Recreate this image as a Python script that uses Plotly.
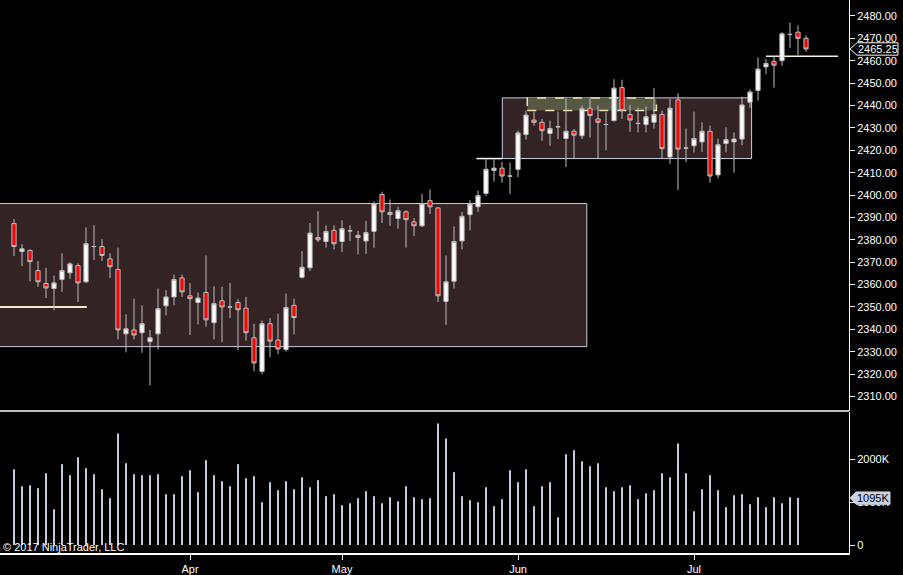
import plotly.graph_objects as go

# daily bars, 2 Mar .. 24 Jul 2017 (index = trading day)
opens = [2387.25, 2374.75, 2375.25, 2366.25, 2360.5, 2358.25, 2362.25, 2365.25, 2368.5, 2361.25,
         2377.0, 2377.0, 2371.5, 2366.75, 2338.0, 2339.75, 2338.5, 2334.5, 2338.0, 2350.5,
         2354.5, 2363.0, 2355.0, 2352.0, 2356.5, 2343.0, 2352.75, 2350.0, 2352.0, 2349.5,
         2336.25, 2321.25, 2342.5, 2335.25, 2331.0, 2350.75, 2363.25, 2367.5, 2381.0, 2379.25,
         2384.25, 2379.25, 2384.0, 2382.0, 2379.5, 2383.75, 2400.25, 2392.25, 2389.5, 2392.5,
         2388.0, 2386.25, 2397.5, 2394.25, 2352.5, 2361.5, 2379.5, 2391.25, 2394.75, 2400.75,
         2411.0, 2412.0, 2408.5, 2411.5, 2427.0, 2433.5, 2432.5, 2427.5, 2430.5, 2425.25,
         2428.5, 2426.5, 2438.75, 2434.0, 2431.5, 2433.25, 2448.0, 2436.0, 2432.0, 2431.5,
         2432.5, 2436.0, 2417.0, 2442.5, 2421.0, 2422.0, 2423.75, 2428.5, 2409.0, 2423.0,
         2423.75, 2425.0, 2441.5, 2446.75, 2457.25, 2459.75, 2460.0, 2471.75, 2472.75, 2470.0]
highs = [2389.25, 2378.0, 2375.75, 2370.5, 2367.5, 2364.0, 2374.0, 2370.0, 2369.5, 2385.5,
         2386.5, 2380.25, 2374.0, 2376.5, 2346.75, 2353.75, 2350.75, 2339.75, 2358.25, 2357.5,
         2364.5, 2364.5, 2360.75, 2356.5, 2373.0, 2359.25, 2359.0, 2360.75, 2353.5, 2354.5,
         2342.5, 2344.0, 2345.0, 2347.0, 2356.0, 2353.75, 2375.0, 2387.5, 2392.75, 2386.5,
         2386.5, 2388.75, 2386.5, 2384.0, 2388.5, 2397.25, 2401.5, 2398.0, 2394.75, 2393.25,
         2389.75, 2400.5, 2402.5, 2394.5, 2373.0, 2386.0, 2392.5, 2397.75, 2402.0, 2416.0,
         2416.0, 2414.75, 2414.5, 2428.75, 2437.75, 2437.25, 2434.0, 2433.25, 2437.25, 2443.5,
         2429.5, 2440.0, 2443.5, 2440.0, 2437.0, 2451.75, 2451.5, 2440.25, 2439.0, 2439.5,
         2447.75, 2437.75, 2443.0, 2445.5, 2429.75, 2437.25, 2432.5, 2431.0, 2425.25, 2430.25,
         2428.0, 2444.0, 2447.25, 2461.5, 2460.75, 2462.0, 2472.75, 2477.0, 2475.75, 2471.25]
lows = [2372.75, 2368.25, 2361.5, 2359.0, 2354.0, 2348.5, 2356.75, 2362.5, 2352.25, 2360.75,
        2371.0, 2370.5, 2363.0, 2335.5, 2329.75, 2335.5, 2329.5, 2315.0, 2331.0, 2346.25,
        2350.75, 2354.5, 2337.5, 2342.25, 2341.25, 2335.5, 2334.25, 2345.0, 2330.75, 2335.0,
        2321.25, 2320.0, 2327.5, 2329.0, 2330.0, 2337.75, 2362.75, 2366.0, 2379.0, 2376.5,
        2375.75, 2374.5, 2379.5, 2373.5, 2373.75, 2376.5, 2387.5, 2386.25, 2385.0, 2376.5,
        2381.75, 2385.75, 2391.5, 2352.25, 2342.0, 2358.25, 2375.75, 2384.25, 2392.5, 2399.5,
        2406.0, 2405.5, 2400.5, 2408.0, 2424.75, 2431.0, 2424.25, 2422.0, 2425.0, 2412.5,
        2416.25, 2425.0, 2425.75, 2416.25, 2420.0, 2432.75, 2434.0, 2428.25, 2428.0, 2428.0,
        2429.75, 2416.25, 2414.0, 2402.25, 2414.75, 2419.0, 2419.25, 2405.5, 2407.5, 2419.0,
        2410.0, 2422.25, 2439.0, 2442.25, 2454.0, 2448.0, 2457.75, 2465.75, 2462.5, 2464.0]
closes = [2377.0, 2376.0, 2370.25, 2361.25, 2358.5, 2360.75, 2366.25, 2369.25, 2360.75, 2378.25,
          2377.0, 2373.0, 2368.0, 2339.75, 2340.25, 2337.5, 2342.5, 2336.25, 2349.25, 2354.5,
          2362.25, 2356.75, 2353.75, 2354.0, 2344.25, 2351.5, 2350.0, 2350.0, 2348.75, 2338.5,
          2325.0, 2342.5, 2334.75, 2331.25, 2349.75, 2345.25, 2367.75, 2383.0, 2380.0, 2383.75,
          2378.25, 2385.0, 2384.0, 2381.0, 2383.25, 2396.0, 2392.5, 2391.25, 2393.0, 2389.0,
          2386.25, 2396.25, 2394.75, 2355.0, 2361.25, 2379.25, 2390.5, 2396.0, 2399.75, 2411.5,
          2412.0, 2408.5, 2408.5, 2427.75, 2435.75, 2432.5, 2428.75, 2429.75, 2430.5, 2428.5,
          2426.75, 2438.5, 2435.5, 2432.5, 2431.5, 2447.75, 2437.75, 2433.5, 2432.0, 2435.0,
          2436.0, 2420.75, 2438.75, 2420.5, 2421.0, 2425.25, 2428.5, 2408.5, 2422.5, 2424.75,
          2425.0, 2440.25, 2446.0, 2456.25, 2458.75, 2458.0, 2472.0, 2471.75, 2470.0, 2465.25]
volumes = [1767000, 1372000, 1395000, 1326000, 1674000, 837000, 1884000, 1628000, 2047000, 1791000,
           1651000, 1302000, 1093000, 2605000, 1907000, 1651000, 1628000, 1628000, 1651000, 1186000,
           1186000, 1605000, 1744000, 1233000, 1977000, 1628000, 1488000, 1372000, 1884000, 1558000,
           1605000, 1000000, 1465000, 1279000, 1488000, 1302000, 1581000, 1349000, 1512000, 1140000,
           1186000, 930000, 977000, 1093000, 1256000, 1140000, 977000, 1116000, 1023000, 1372000,
           1116000, 1070000, 1093000, 2837000, 2488000, 1698000, 1140000, 1047000, 1000000, 1349000,
           907000, 1070000, 1744000, 1465000, 1767000, 907000, 1372000, 1465000, 651000, 2116000,
           2209000, 1953000, 1837000, 1907000, 1349000, 1256000, 1349000, 1395000, 1070000, 1209000,
           1279000, 1674000, 1581000, 2372000, 1674000, 791000, 1302000, 1628000, 1279000, 884000,
           1163000, 1186000, 954000, 1116000, 884000, 1116000, 977000, 1116000, 1095000]

month_ticks = [22, 41, 63, 85]
month_labels = ["Apr", "May", "Jun", "Jul"]
price_ticks = list(range(2310, 2481, 10))
volume_ticks = [0, 1000000, 2000000]
volume_labels = ["0", "1000K", "2000K"]

bars = list(range(len(closes)))

W, H = 849, 555  # plot area in px
price_dom = [1 - 412 / H, 1.0]
vol_dom = [0.0, 1 - 413 / H]
price_rng = [2303.76, 2487.12]
vol_rng = [-186000, 3116000]

FONT = "Liberation Sans, Arial, sans-serif"
WICK = "#bdbdbd"


def to_paper(v, dom, rng):
    return dom[0] + (v - rng[0]) / (rng[1] - rng[0]) * (dom[1] - dom[0])


def marker_path(yc, x_tip, x_box, x_end, half=6.2):
    t, b, e = x_tip / W, x_box / W, x_end / W
    h = half / H
    return f"M {t},{yc} L {b},{yc + h} L {e},{yc + h} L {e},{yc - h} L {b},{yc - h} Z"


fig = go.Figure()

fig.add_trace(go.Candlestick(
    x=bars, open=opens, high=highs, low=lows, close=closes,
    increasing=dict(fillcolor="#ffffff", line=dict(color=WICK, width=1)),
    decreasing=dict(fillcolor="#ff0000", line=dict(color=WICK, width=1)),
    whiskerwidth=0, xaxis="x", yaxis="y", hoverinfo="skip", showlegend=False,
))

fig.add_trace(go.Bar(
    x=bars[:len(volumes)], y=volumes, width=0.25,
    marker=dict(color="#c3cddd", line=dict(width=0)),
    xaxis="x", yaxis="y2", hoverinfo="skip", showlegend=False,
))

axis_common = dict(showgrid=False, zeroline=False, showline=True, linecolor="#ffffff",
                   ticks="outside", ticklen=5, tickcolor="#ffffff",
                   tickfont=dict(family=FONT, size=11, color="#ffffff"), fixedrange=True)

fig.update_layout(
    width=903, height=575,
    margin=dict(l=0, r=54, t=0, b=20),
    paper_bgcolor="#000000", plot_bgcolor="#000000",
    boxgap=0.25,
    showlegend=False,
    xaxis=dict(range=[-1.75, 104.375], anchor="y2", tickvals=month_ticks, ticktext=month_labels,
               linewidth=1.5, rangeslider=dict(visible=False), **axis_common),
    yaxis=dict(domain=price_dom, range=price_rng, side="right", anchor="x",
               tickvals=price_ticks, ticktext=[f"{v:.2f}" for v in price_ticks],
               linewidth=1, **axis_common),
    yaxis2=dict(domain=vol_dom, range=vol_rng, side="right", anchor="x",
                tickvals=volume_ticks, ticktext=volume_labels, linewidth=1, **axis_common),
)

# drawn zones
fig.add_shape(type="rect", xref="x", yref="y", x0=-3, x1=71.6, y0=2332.3, y1=2396.2,
              fillcolor="#332324", line=dict(color="#c8d0dc", width=1), layer="below")
fig.add_shape(type="line", xref="x", yref="y", x0=-3, x1=9.1, y0=2350, y1=2350,
              line=dict(color="#f3e9c6", width=2), layer="below")
fig.add_shape(type="rect", xref="x", yref="y", x0=61.04, x1=92.2, y0=2416.3, y1=2443.4,
              fillcolor="#332324", line=dict(color="#c8d0dc", width=1), layer="below")
fig.add_shape(type="rect", xref="x", yref="y", x0=64.16, x1=80.3, y0=2437.8, y1=2443.4,
              fillcolor="#565844", line=dict(color="#ece4b8", width=1.5, dash="dash"), layer="below")
fig.add_shape(type="line", xref="x", yref="y", x0=57.8, x1=61.04, y0=2416.3, y1=2416.3,
              line=dict(color="#ffffff", width=1.5), layer="below")
fig.add_shape(type="line", xref="x", yref="y", x0=94, x1=103, y0=2462, y1=2462,
              line=dict(color="#f5f0e0", width=1.5), layer="below")

# panel separator
sep = 1 - 412.6 / H
fig.add_shape(type="line", xref="paper", yref="paper", x0=0, x1=1, y0=sep, y1=sep,
              line=dict(color="#ffffff", width=1.5))

# last price marker
yp = to_paper(closes[-1], price_dom, price_rng)
fig.add_shape(type="path", xref="paper", yref="paper", path=marker_path(yp, 850, 857, 898),
              fillcolor="#000000", line=dict(color="#ffffff", width=1), layer="above")
fig.add_annotation(x=(857 + 898) / 2 / W, y=yp, xref="paper", yref="paper", text=f"{closes[-1]:.2f}",
                   showarrow=False, xanchor="center", yanchor="middle",
                   font=dict(family=FONT, size=11, color="#ffffff"))

# last volume marker
yv = to_paper(volumes[-1], vol_dom, vol_rng)
fig.add_shape(type="path", xref="paper", yref="paper", path=marker_path(yv, 850, 856, 890),
              fillcolor="#c8d2e2", line=dict(color="#c8d2e2", width=1), layer="above")
fig.add_annotation(x=(856 + 890) / 2 / W, y=yv, xref="paper", yref="paper",
                   text=f"{round(volumes[-1] / 1000)}K",
                   showarrow=False, xanchor="center", yanchor="middle",
                   font=dict(family=FONT, size=11, color="#000000"))

fig.add_annotation(x=0, y=1 - 549 / H, xref="paper", yref="paper", text="© 2017 NinjaTrader, LLC",
                   showarrow=False, xanchor="left", yanchor="middle", xshift=1,
                   font=dict(family=FONT, size=11, color="#ffffff"))

fig.write_html("out.html", config={"displayModeBar": False},
               post_script="document.body.style.margin = '0';")
